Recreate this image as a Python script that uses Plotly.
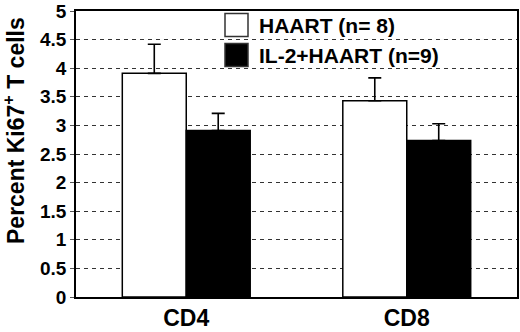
import plotly.graph_objects as go

categories = ["CD4", "CD8"]
series_names = ["HAART (n= 8)", "IL-2+HAART (n=9)"]
haart_vals = [3.91, 3.43]
haart_err = [0.51, 0.40]
il2_vals = [2.91, 2.735]
il2_err = [0.30, 0.295]
y_ticks = [0, 0.5, 1, 1.5, 2, 2.5, 3, 3.5, 4, 4.5, 5]
y_tick_labels = ["0", "0.5", "1", "1.5", "2", "2.5", "3", "3.5", "4", "4.5", "5"]
y_title = "Percent Ki67<sup>+</sup> T cells"

FONT = "Arial, Liberation Sans, Helvetica, sans-serif"
fills = ["white", "black"]

fig = go.Figure()
for name, vals, err, fill in [(series_names[0], haart_vals, haart_err, fills[0]),
                               (series_names[1], il2_vals, il2_err, fills[1])]:
    fig.add_trace(go.Bar(
        x=categories, y=vals, name=name,
        marker=dict(color=fill, line=dict(color="black", width=1.5)),
        error_y=dict(type="data", array=err, symmetric=False, arrayminus=[0] * len(err),
                     color="black", thickness=1.6, width=6.5),
        showlegend=False, hoverinfo="skip",
    ))

L, R, T, B = 76, 3, 11, 35
W, H = 520, 332
plot_h = H - T - B
plot_w = W - L - R

fig.update_layout(
    width=W, height=H,
    margin=dict(l=L, r=R, t=T, b=B, autoexpand=False),
    paper_bgcolor="white", plot_bgcolor="white",
    barmode="group", bargap=0.42, bargroupgap=0,
    font=dict(family=FONT, color="black"),
    showlegend=False,
    xaxis=dict(
        showline=True, linecolor="black", linewidth=1.5, mirror=True,
        ticks="", tickvals=categories,
        ticktext=["<b>%s</b>" % c for c in categories],
        tickfont=dict(size=23, family=FONT, weight="bold"),
        ticklabelstandoff=0,
        showgrid=False,
    ),
    yaxis=dict(
        range=[0, 5], tickvals=y_ticks,
        ticktext=["<b>%s</b>" % t for t in y_tick_labels],
        showline=True, linecolor="black", linewidth=1.5, mirror=True,
        ticks="outside", ticklen=4, tickcolor="#555", tickwidth=1,
        tickfont=dict(size=19, family=FONT, weight="bold"),
        showgrid=True, gridcolor="#333", gridwidth=1, griddash="4px,4px",
        zeroline=False,
    ),
)

# y-axis title as rotated annotation
fig.add_annotation(xref="paper", yref="paper",
                   x=(14 - L) / plot_w, y=1 - (131 - T) / plot_h,
                   text="<b>%s</b>" % y_title, textangle=-90, showarrow=False,
                   xanchor="center", yanchor="middle",
                   font=dict(size=23, family=FONT, weight="bold", color="black"))

# custom legend (large boxes as in reference)
legend_rows_y = [25, 55]  # pixel centres from top
for i, (name, fill) in enumerate(zip(series_names, fills)):
    yc = 1 - (legend_rows_y[i] - T) / plot_h
    hx = 11.5 / plot_h
    x0 = (225 - L) / plot_w
    x1 = (248 - L) / plot_w
    fig.add_shape(type="rect", xref="paper", yref="paper",
                  x0=x0, x1=x1, y0=yc - hx, y1=yc + hx,
                  fillcolor=fill, line=dict(color="#333", width=1.5))
    fig.add_annotation(xref="paper", yref="paper", x=(257 - L) / plot_w, y=yc,
                       text="<b>%s</b>" % name, showarrow=False, xanchor="left", yanchor="middle",
                       font=dict(size=21, family=FONT, weight="bold", color="black"))

fig.write_html("out.html", config={"displayModeBar": False},
               post_script="document.body.style.margin='0';document.body.style.overflow='hidden';")
